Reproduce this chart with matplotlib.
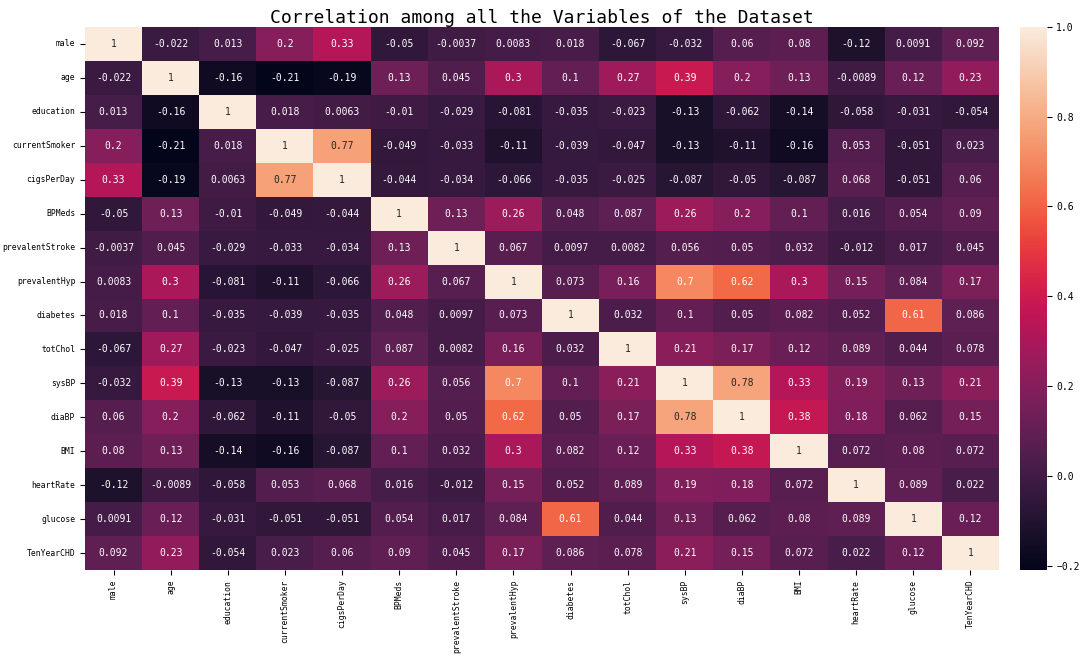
import numpy as np
import pandas as pd
import matplotlib
matplotlib.use("Agg")
import matplotlib.pyplot as plt
import seaborn as sns

# variable names (rows / columns of the correlation matrix)
cols = ["male", "age", "education", "currentSmoker", "cigsPerDay", "BPMeds",
        "prevalentStroke", "prevalentHyp", "diabetes", "totChol", "sysBP",
        "diaBP", "BMI", "heartRate", "glucose", "TenYearCHD"]

male = [1, -0.022, 0.013, 0.2, 0.33, -0.05, -0.0037, 0.0083, 0.018, -0.067, -0.032, 0.06, 0.08, -0.12, 0.0091, 0.092]
age = [-0.022, 1, -0.16, -0.21, -0.19, 0.13, 0.045, 0.3, 0.1, 0.27, 0.39, 0.2, 0.13, -0.0089, 0.12, 0.23]
education = [0.013, -0.16, 1, 0.018, 0.0063, -0.01, -0.029, -0.081, -0.035, -0.023, -0.13, -0.062, -0.14, -0.058, -0.031, -0.054]
currentSmoker = [0.2, -0.21, 0.018, 1, 0.77, -0.049, -0.033, -0.11, -0.039, -0.047, -0.13, -0.11, -0.16, 0.053, -0.051, 0.023]
cigsPerDay = [0.33, -0.19, 0.0063, 0.77, 1, -0.044, -0.034, -0.066, -0.035, -0.025, -0.087, -0.05, -0.087, 0.068, -0.051, 0.06]
BPMeds = [-0.05, 0.13, -0.01, -0.049, -0.044, 1, 0.13, 0.26, 0.048, 0.087, 0.26, 0.2, 0.1, 0.016, 0.054, 0.09]
prevalentStroke = [-0.0037, 0.045, -0.029, -0.033, -0.034, 0.13, 1, 0.067, 0.0097, 0.0082, 0.056, 0.05, 0.032, -0.012, 0.017, 0.045]
prevalentHyp = [0.0083, 0.3, -0.081, -0.11, -0.066, 0.26, 0.067, 1, 0.073, 0.16, 0.7, 0.62, 0.3, 0.15, 0.084, 0.17]
diabetes = [0.018, 0.1, -0.035, -0.039, -0.035, 0.048, 0.0097, 0.073, 1, 0.032, 0.1, 0.05, 0.082, 0.052, 0.61, 0.086]
totChol = [-0.067, 0.27, -0.023, -0.047, -0.025, 0.087, 0.0082, 0.16, 0.032, 1, 0.21, 0.17, 0.12, 0.089, 0.044, 0.078]
sysBP = [-0.032, 0.39, -0.13, -0.13, -0.087, 0.26, 0.056, 0.7, 0.1, 0.21, 1, 0.78, 0.33, 0.19, 0.13, 0.21]
diaBP = [0.06, 0.2, -0.062, -0.11, -0.05, 0.2, 0.05, 0.62, 0.05, 0.17, 0.78, 1, 0.38, 0.18, 0.062, 0.15]
BMI = [0.08, 0.13, -0.14, -0.16, -0.087, 0.1, 0.032, 0.3, 0.082, 0.12, 0.33, 0.38, 1, 0.072, 0.08, 0.072]
heartRate = [-0.12, -0.0089, -0.058, 0.053, 0.068, 0.016, -0.012, 0.15, 0.052, 0.089, 0.19, 0.18, 0.072, 1, 0.089, 0.022]
glucose = [0.0091, 0.12, -0.031, -0.051, -0.051, 0.054, 0.017, 0.084, 0.61, 0.044, 0.13, 0.062, 0.08, 0.089, 1, 0.12]
TenYearCHD = [0.092, 0.23, -0.054, 0.023, 0.06, 0.09, 0.045, 0.17, 0.086, 0.078, 0.21, 0.15, 0.072, 0.022, 0.12, 1]

rows = [male, age, education, currentSmoker, cigsPerDay, BPMeds, prevalentStroke,
        prevalentHyp, diabetes, totChol, sysBP, diaBP, BMI, heartRate, glucose, TenYearCHD]
corr = pd.DataFrame(rows, index=cols, columns=cols)

plt.rcParams['font.family'] = ['DejaVu Sans Mono', 'DejaVu Sans']

fig = plt.figure(figsize=(10.8, 6.58), dpi=100)
ax = fig.add_axes([0.0787, 0.1337, 0.8463, 0.8253])
cax = fig.add_axes([0.944, 0.1337, 0.025, 0.8253])

sns.heatmap(corr, annot=True, ax=ax, cbar_ax=cax, annot_kws={"fontsize": 7})
ax.set_title("Correlation among all the Variables of the Dataset", fontsize=13, pad=3)
ax.tick_params(axis='both', labelsize=5.8)
plt.setp(ax.get_xticklabels(), rotation=90)
plt.setp(ax.get_yticklabels(), rotation=0)
cax.tick_params(labelsize=7)

fig.savefig("out.png", dpi=100)
